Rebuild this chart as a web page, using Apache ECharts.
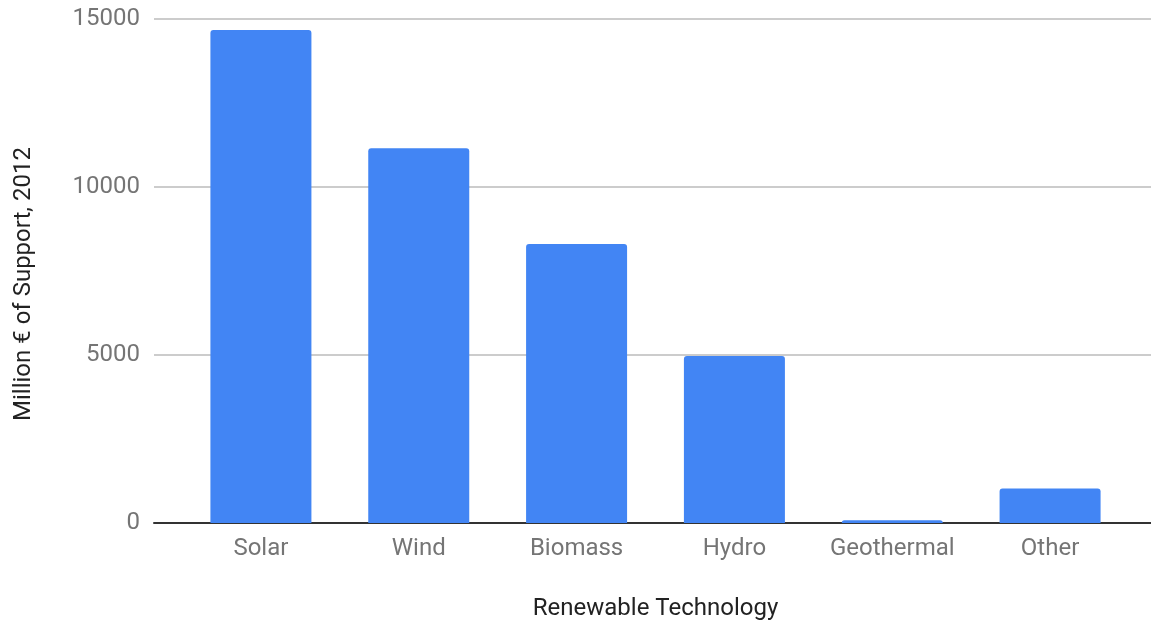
<!DOCTYPE html>
<html>
<head>
<meta charset="utf-8">
<script src="https://cdn.jsdelivr.net/npm/echarts@6/dist/echarts.min.js"></script>
<style>
html,body{margin:0;padding:0;background:#fff;}
#chart{width:1151px;height:624px;}
</style>
</head>
<body>
<div id="chart"></div>
<script>
var categories = ['Solar', 'Wind', 'Biomass', 'Hydro', 'Geothermal', 'Other'];
var support = [14670, 11150, 8300, 4970, 80, 1030];
var yTicks = [0, 5000, 10000, 15000];

var textColor = '#757575';
var font = 'Roboto';

var myChart = echarts.init(document.getElementById('chart'));
myChart.setOption({
    animation: false,
    textStyle: { fontFamily: font },
    grid: [
        // full width: gridlines + baseline
        { left: 154, right: 0, top: 19, bottom: 101, outerBoundsMode: 'none', containLabel: false },
        // bars
        { left: 182, right: 22, top: 19, bottom: 101, outerBoundsMode: 'none', containLabel: false }
    ],
    xAxis: [{
        gridIndex: 0,
        type: 'value',
        min: 0, max: 1,
        axisLine: { show: true, onZero: false, lineStyle: { color: '#333', width: 2 } },
        axisTick: { show: false },
        axisLabel: { show: false },
        splitLine: { show: false }
    }, {
        gridIndex: 1,
        type: 'category',
        data: categories,
        axisLine: { show: false },
        axisTick: { show: false },
        axisLabel: { color: textColor, fontSize: 24, margin: 14, interval: 0, fontFamily: font },
        name: 'Renewable Technology',
        nameLocation: 'middle',
        nameGap: 74,
        nameTextStyle: { color: '#222', fontSize: 24, fontFamily: font }
    }],
    yAxis: [{
        gridIndex: 0,
        type: 'value',
        min: yTicks[0],
        max: yTicks[yTicks.length - 1],
        interval: 5000,
        axisLine: { show: false },
        axisTick: { show: false },
        axisLabel: {
            color: textColor, fontSize: 24, margin: 14, fontFamily: font,
            formatter: function (v) { return String(v); }
        },
        splitLine: { show: true, lineStyle: { color: '#cccccc', width: 2 } },
        name: 'Million € of Support, 2012',
        nameLocation: 'middle',
        nameGap: 118,
        nameTextStyle: { color: '#222', fontSize: 24, fontFamily: font, padding: [0, 26, 0, 0] }
    }, {
        gridIndex: 1,
        type: 'value',
        min: yTicks[0],
        max: yTicks[yTicks.length - 1],
        interval: 5000,
        show: false
    }],
    series: [{
        type: 'bar',
        xAxisIndex: 1,
        yAxisIndex: 1,
        data: support,
        barWidth: 101,
        itemStyle: { color: '#4285f4', borderRadius: [3, 3, 0, 0] }
    }]
});
</script>
</body>
</html>
